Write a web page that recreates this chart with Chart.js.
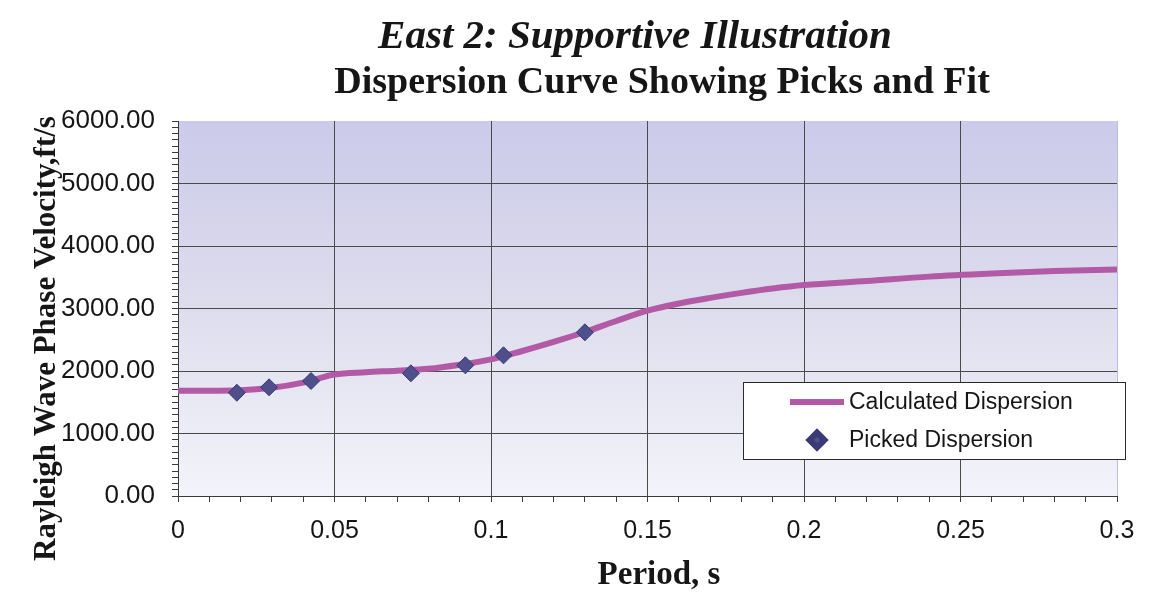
<!DOCTYPE html>
<html>
<head>
<meta charset="utf-8">
<script src="https://cdn.jsdelivr.net/npm/chart.js@4.4.1/dist/chart.umd.min.js"></script>
<style>
  html, body { margin: 0; padding: 0; background: #ffffff; }
  #wrap { width: 1159px; height: 602px; position: relative; }
</style>
</head>
<body>
<div id="wrap"><canvas id="c"></canvas></div>
<script>
// Text
const chartTitle = 'East 2: Supportive Illustration';
const chartSubtitle = 'Dispersion Curve Showing Picks and Fit';
const xAxisTitle = 'Period, s';
const yAxisTitle = 'Rayleigh Wave Phase Velocity,ft/s';

// Calculated (fitted) dispersion curve: period (s) and phase velocity (ft/s)
const fitPeriods    = [0.00, 0.01, 0.02, 0.03, 0.04, 0.05, 0.06, 0.07, 0.08, 0.09, 0.10, 0.11, 0.12, 0.13, 0.14, 0.15, 0.16, 0.17, 0.18, 0.19, 0.20, 0.22, 0.24, 0.26, 0.28, 0.30];
const fitVelocities = [1685, 1685, 1692, 1733, 1815, 1945, 1980, 2005, 2035, 2100, 2185, 2320, 2465, 2624, 2800, 2965, 3080, 3170, 3250, 3320, 3375, 3440, 3510, 3560, 3600, 3625];

// Picked dispersion points
const pickPeriods    = [0.0188, 0.0291, 0.0425, 0.0744, 0.0918, 0.1040, 0.1300];
const pickVelocities = [1653, 1739, 1840, 1963, 2091, 2251, 2619];

// Tick labels
const xTickLabels = ['0', '0.05', '0.1', '0.15', '0.2', '0.25', '0.3'];
const yTickLabels = ['0.00', '1000.00', '2000.00', '3000.00', '4000.00', '5000.00', '6000.00'];

const SANS = "'Liberation Sans', Arial, sans-serif";
const SERIF = "'Liberation Serif', 'Times New Roman', serif";
const FIT_COLOR = '#b25aa6';
const PICK_FILL = '#4f4f8c';
const PICK_EDGE = '#3a3a74';
const GRID_COLOR = '#4a4a4a';

// Plot-area fill, headings, axis titles and the in-plot legend
const decorPlugin = {
  id: 'decor',
  beforeDraw(chart) {
    const { ctx, chartArea: a } = chart;
    ctx.save();
    const g = ctx.createLinearGradient(0, a.top, 0, a.bottom);
    g.addColorStop(0, '#cbcaea');
    g.addColorStop(0.5, '#dedded');
    g.addColorStop(1, '#f3f3fa');
    ctx.fillStyle = g;
    ctx.fillRect(a.left, a.top, a.right - a.left, a.bottom - a.top);
    ctx.restore();
  },
  afterDraw(chart) {
    const { ctx } = chart;
    ctx.save();
    ctx.fillStyle = '#161616';
    ctx.textAlign = 'center';
    ctx.textBaseline = 'alphabetic';
    ctx.font = `italic bold 41px ${SERIF}`;
    ctx.fillText(chartTitle, 635, 48);
    ctx.font = `bold 38px ${SERIF}`;
    ctx.fillText(chartSubtitle, 662, 93);
    ctx.font = `bold 33px ${SERIF}`;
    ctx.fillText(xAxisTitle, 659, 584);

    ctx.translate(55, 561);
    ctx.rotate(-Math.PI / 2);
    ctx.textAlign = 'left';
    ctx.font = `bold 31px ${SERIF}`;
    ctx.fillText(yAxisTitle, 0, 0);
    ctx.restore();

    // legend box
    const fit = chart.data.datasets[0];
    const picks = chart.data.datasets[1];
    ctx.save();
    ctx.fillStyle = '#ffffff';
    ctx.fillRect(743, 382, 382, 77);
    ctx.strokeStyle = '#2a2a2a';
    ctx.lineWidth = 1;
    ctx.strokeRect(743.5, 382.5, 382, 77);

    ctx.strokeStyle = fit.borderColor;
    ctx.lineWidth = fit.borderWidth;
    ctx.beginPath();
    ctx.moveTo(790, 402);
    ctx.lineTo(844, 402);
    ctx.stroke();

    ctx.fillStyle = picks.backgroundColor;
    ctx.strokeStyle = picks.borderColor;
    Chart.helpers.drawPoint(ctx, { pointStyle: picks.pointStyle, radius: picks.pointRadius - 1, borderWidth: 1, rotation: 0 }, 817, 440);

    ctx.fillStyle = '#161616';
    ctx.font = `23px ${SANS}`;
    ctx.textAlign = 'left';
    ctx.textBaseline = 'middle';
    ctx.fillText(fit.label, 849, 403);
    ctx.fillText(picks.label, 849, 441);
    ctx.restore();
  }
};

new Chart(document.getElementById('c'), {
  type: 'scatter',
  data: {
    datasets: [
      {
        type: 'line',
        label: 'Calculated Dispersion',
        data: fitPeriods.map((p, i) => ({ x: p, y: fitVelocities[i] })),
        borderColor: FIT_COLOR,
        borderWidth: 6,
        pointRadius: 0,
        fill: false,
        cubicInterpolationMode: 'monotone',
        order: 2
      },
      {
        type: 'scatter',
        label: 'Picked Dispersion',
        data: pickPeriods.map((p, i) => ({ x: p, y: pickVelocities[i] })),
        pointStyle: 'rectRot',
        pointRadius: 8.5,
        backgroundColor: PICK_FILL,
        borderColor: PICK_EDGE,
        borderWidth: 1,
        order: 1
      }
    ]
  },
  options: {
    responsive: true,
    maintainAspectRatio: false,
    animation: false,
    layout: { padding: { top: 121, right: 42, bottom: 0, left: 0 } },
    plugins: {
      legend: { display: false },
      title: { display: false },
      tooltip: { enabled: false }
    },
    scales: {
      x: {
        type: 'linear',
        min: 0,
        max: 0.3,
        afterFit: (s) => { s.height = 106; },
        border: { color: '#3a3a3a', width: 1 },
        grid: {
          color: (c) => {
            const k = Math.round(c.tick.value * 100);
            if (k === 30) return '#b9bde6';
            return (k % 5 === 0 && k !== 0) ? GRID_COLOR : 'rgba(0,0,0,0)';
          },
          tickColor: '#3a3a3a',
          tickLength: 6,
          lineWidth: 1
        },
        ticks: {
          stepSize: 0.01,
          autoSkip: false,
          maxRotation: 0,
          maxTicksLimit: 100,
          padding: 14,
          color: '#161616',
          font: { family: SANS, size: 25 },
          callback: (v) => {
            const k = Math.round(v * 100);
            return k % 5 === 0 ? xTickLabels[k / 5] : '';
          }
        }
      },
      y: {
        type: 'linear',
        min: 0,
        max: 6000,
        afterFit: (s) => { s.width = 178; },
        border: { color: '#3a3a3a', width: 1 },
        grid: {
          color: (c) => {
            const k = Math.round(c.tick.value / 100);
            return (k % 10 === 0 && k !== 0 && k !== 60) ? GRID_COLOR : 'rgba(0,0,0,0)';
          },
          tickColor: '#3a3a3a',
          tickLength: 6,
          lineWidth: 1
        },
        ticks: {
          stepSize: 100,
          autoSkip: false,
          maxTicksLimit: 100,
          padding: 17,
          color: '#161616',
          font: { family: SANS, size: 26 },
          callback: (v) => {
            const k = Math.round(v / 100);
            return k % 10 === 0 ? yTickLabels[k / 10] : '';
          }
        }
      }
    }
  },
  plugins: [decorPlugin]
});
</script>
</body>
</html>
